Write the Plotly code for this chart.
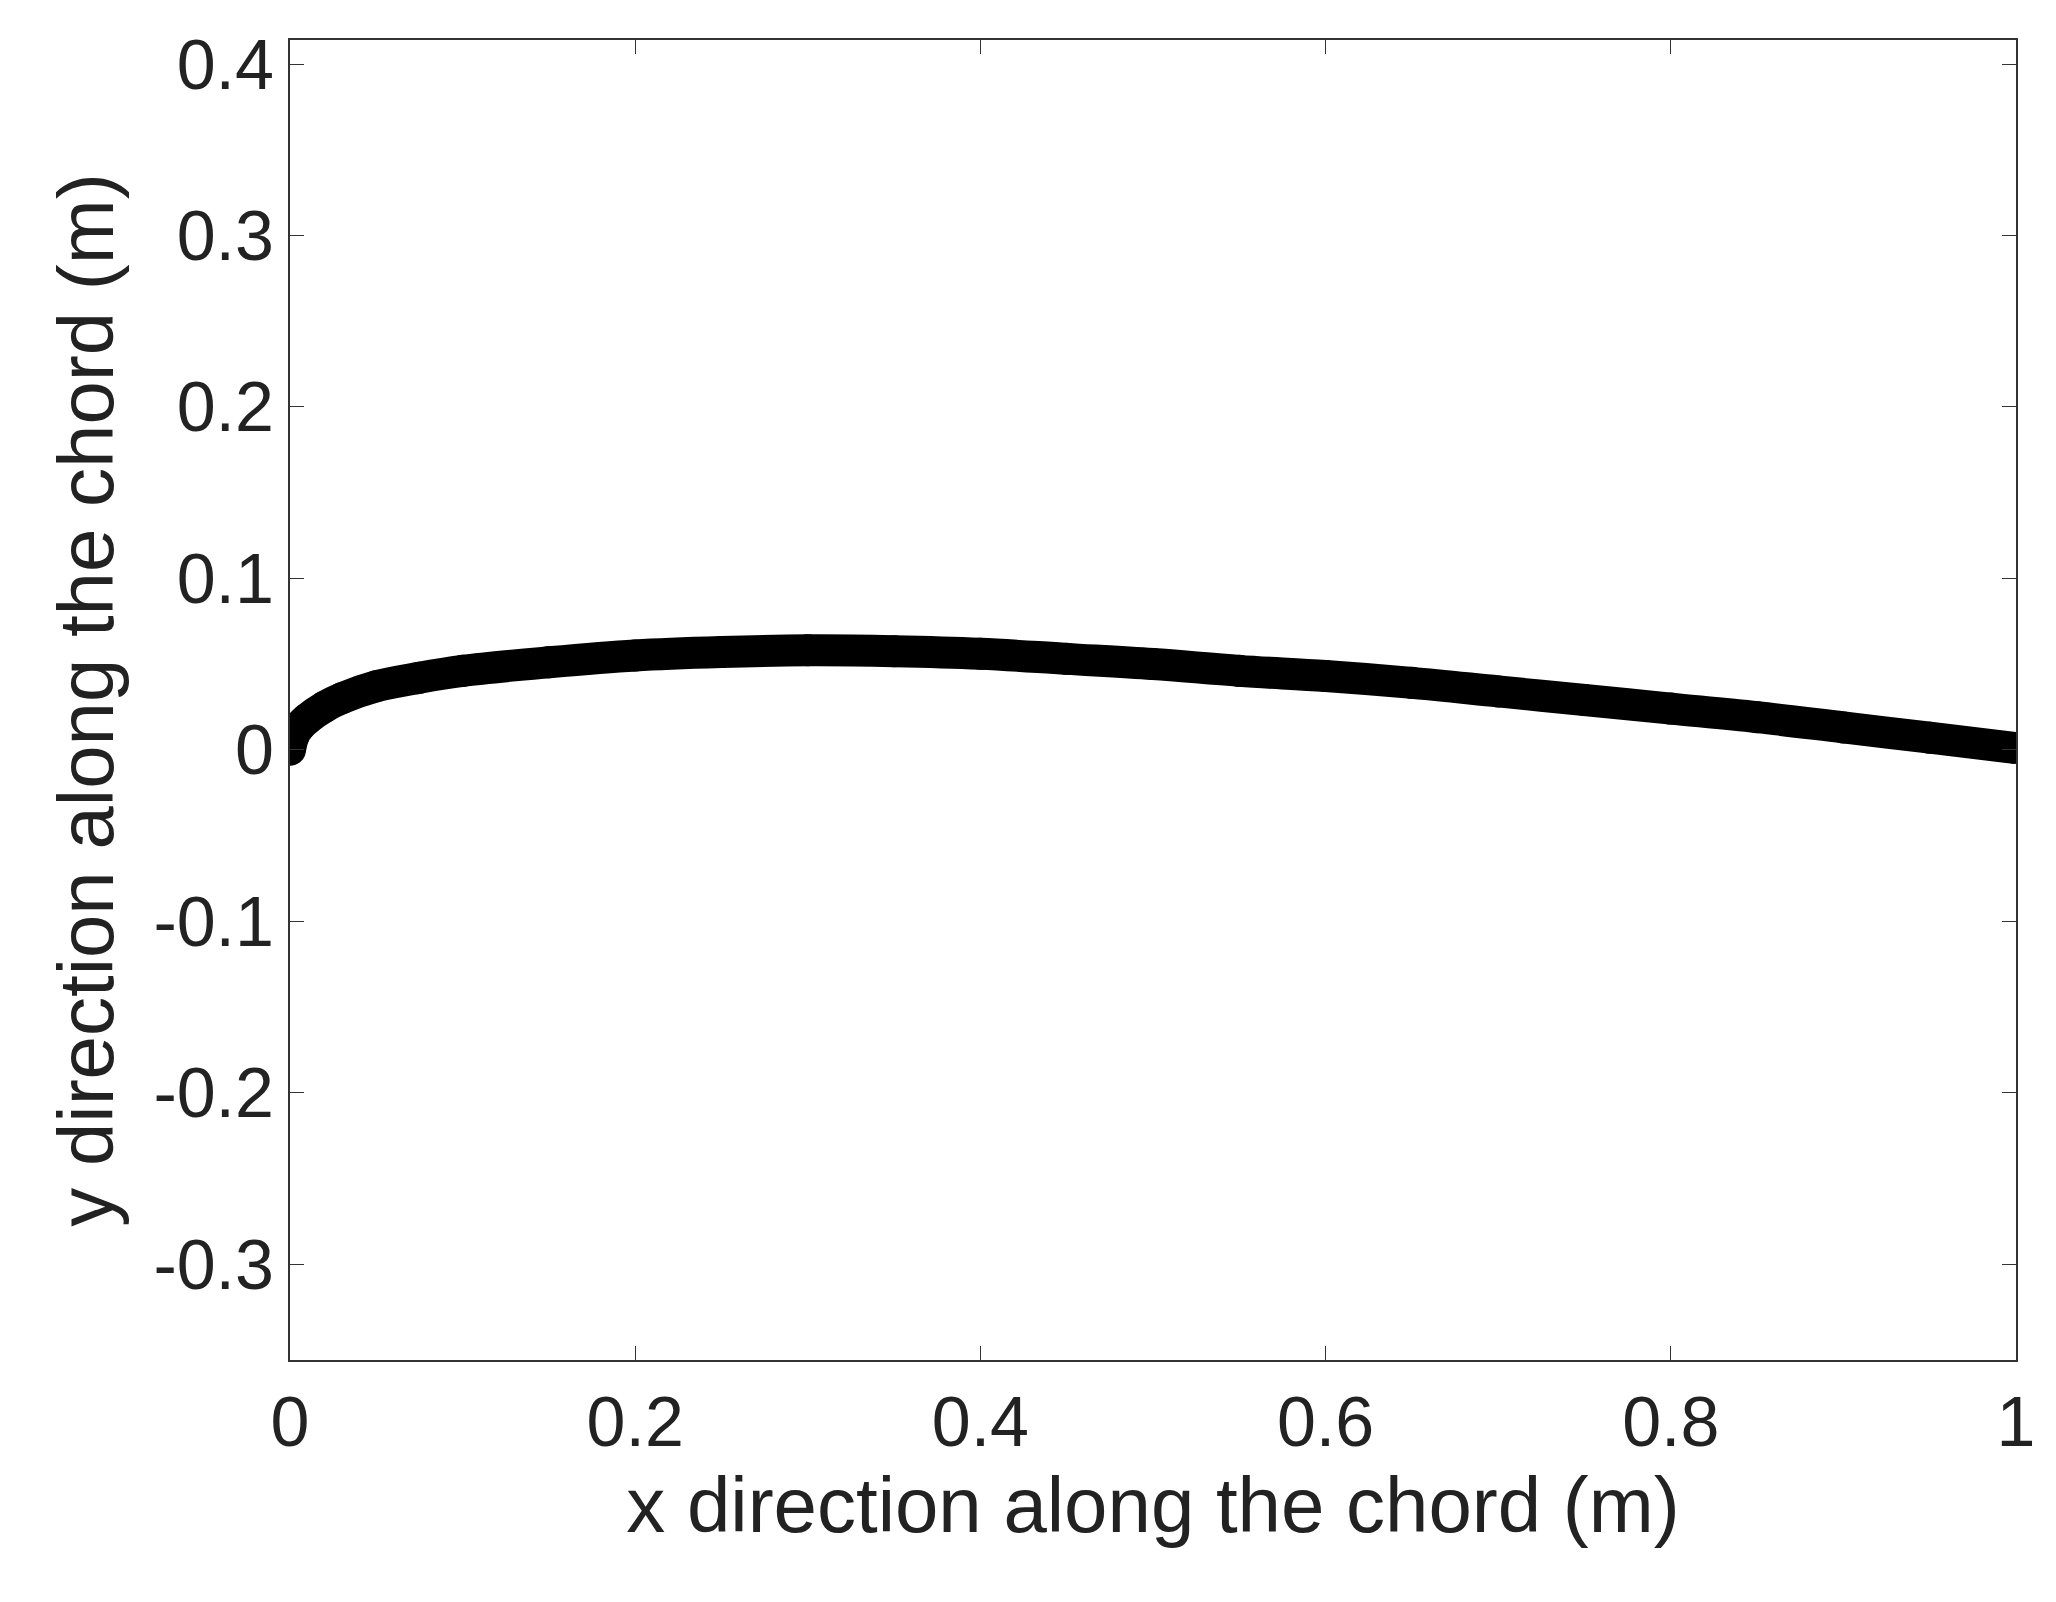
import plotly.graph_objects as go

# camber line
x_chord = [0, 0.002, 0.005, 0.01, 0.02, 0.03, 0.05, 0.075, 0.1, 0.15, 0.2, 0.25, 0.3, 0.35, 0.4,
           0.45, 0.5, 0.55, 0.6, 0.65, 0.7, 0.75, 0.8, 0.85, 0.9, 0.95, 1.0]
y_chord = [0, 0.008, 0.013, 0.018, 0.025, 0.03, 0.037, 0.042, 0.046, 0.051, 0.055, 0.057, 0.058,
           0.0575, 0.056, 0.053, 0.050, 0.046, 0.043, 0.039, 0.034, 0.029, 0.024, 0.019, 0.013,
           0.007, 0.001]

x_ticks = [0, 0.2, 0.4, 0.6, 0.8, 1]
x_labels = ["0", "0.2", "0.4", "0.6", "0.8", "1"]
y_ticks = [-0.3, -0.2, -0.1, 0, 0.1, 0.2, 0.3, 0.4]
y_labels = ["-0.3", "-0.2", "-0.1", "0", "0.1", "0.2", "0.3", "0.4"]

fig = go.Figure(go.Scatter(x=x_chord, y=y_chord, mode="lines+markers",
                           line=dict(color="black", width=32, shape="spline"),
                           marker=dict(color="black", size=32)))

axis_common = dict(showgrid=False, zeroline=False, showline=True, mirror="ticks",
                   linecolor="#333", linewidth=2, ticks="inside", ticklen=14,
                   tickcolor="#333", tickfont=dict(size=70, color="#222"))

fig.update_layout(
    width=2056, height=1602, plot_bgcolor="white", paper_bgcolor="white",
    font=dict(family="Liberation Sans, Arial", color="#222"),
    margin=dict(l=282, r=48, t=32, b=250), showlegend=False,
    xaxis=dict(range=[0, 1], tickvals=x_ticks, ticktext=x_labels,
               title=dict(text="x direction along the chord (m)", font=dict(size=78), standoff=14),
               **axis_common),
    yaxis=dict(range=[-0.356, 0.414], tickvals=y_ticks, ticktext=y_labels,
               title=dict(text="y direction along the chord (m)", font=dict(size=78), standoff=14),
               **axis_common),
)

fig.write_html("out.html")
